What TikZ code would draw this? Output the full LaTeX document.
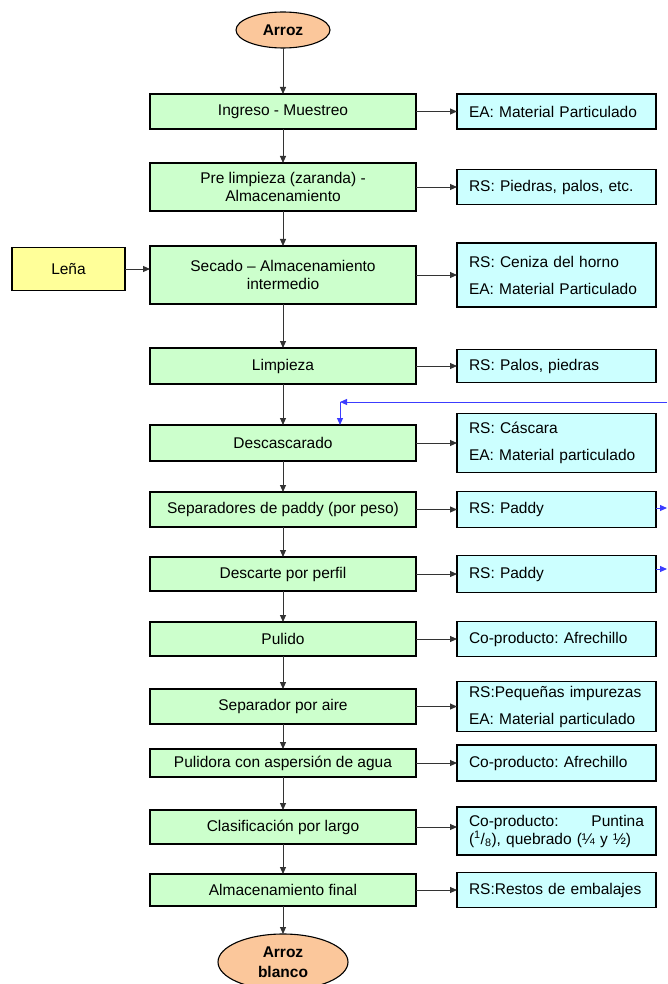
\documentclass[tikz,border=0pt]{standalone}
\usepackage{fontspec}
\setmainfont{Liberation Sans}
\usetikzlibrary{arrows.meta, positioning, shapes.geometric}
\definecolor{procgreen}{HTML}{CCFFCC}
\definecolor{salcyan}{HTML}{CCFFFF}
\definecolor{lenayellow}{HTML}{FFFF99}
\definecolor{arrozorange}{HTML}{FBC79B}
\definecolor{loopblue}{HTML}{3C3CFF}
\frenchspacing

\begin{document}
\begin{tikzpicture}[
  x=1pt, y=-1pt,
  font=\fontsize{15.5}{18}\selectfont,
  proceso/.style={rectangle, draw=black, line width=1.1pt, fill=procgreen,
                  align=center, minimum width=266pt, inner sep=2pt, outer sep=0pt},
  salida/.style={rectangle, draw=black, line width=1.1pt, fill=salcyan, outer sep=0pt,
                 align=left, text width=175pt, inner xsep=12pt, inner ysep=2pt},
  entrada/.style={rectangle, draw=black, line width=1.1pt, fill=lenayellow,
                  minimum width=113pt, minimum height=43pt, outer sep=0pt},
  extremo/.style={ellipse, draw=black, line width=1.1pt, fill=arrozorange, outer sep=0pt,
                  align=center, inner sep=1pt, font=\fontsize{15.5}{20}\selectfont\bfseries},
  arr/.style={-{Triangle[length=7pt, width=6pt]}, line width=0.9pt, black!80},
  retorno/.style={-{Triangle[length=7pt, width=6pt]}, line width=1pt, loopblue}
]
\useasboundingbox (0,0) rectangle (667,984);

% main line
\node (arroz) [extremo, minimum width=94pt, minimum height=36pt] at (283,30) {Arroz};
\node (ingreso) [proceso, minimum height=35pt, below=46pt of arroz] {Ingreso - Muestreo};
\node (prelimp) [proceso, minimum height=48pt, below=34pt of ingreso]
  {Pre limpieza (zaranda) -\\Almacenamiento};
\node (secado) [proceso, minimum height=58pt, below=35pt of prelimp]
  {Secado – Almacenamiento\\intermedio};
\node (limpieza) [proceso, minimum height=36pt, below=44pt of secado] {Limpieza};
\node (descasc) [proceso, minimum height=36pt, below=41pt of limpieza] {Descascarado};
\node (separ) [proceso, minimum height=35pt, below=31pt of descasc]
  {Separadores de paddy (por peso)};
\node (descarte) [proceso, minimum height=34pt, below=30pt of separ] {Descarte por perfil};
\node (pulido) [proceso, minimum height=34pt, below=31pt of descarte] {Pulido};
\node (sepaire) [proceso, minimum height=35pt, below=33pt of pulido] {Separador por aire};
\node (pulidora) [proceso, minimum height=28pt, below=25pt of sepaire]
  {Pulidora con aspersión de agua};
\node (clasif) [proceso, minimum height=34pt, below=33pt of pulidora]
  {Clasificación por largo};
\node (almac) [proceso, minimum height=32pt, below=30pt of clasif] {Almacenamiento final};
\node (blanco) [extremo, minimum width=130pt, minimum height=56pt, below=28pt of almac]
  {Arroz\\blanco};

% inputs and outputs
\node (lena) [entrada, left=25pt of secado, yshift=6pt] {Leña};
\node (sal1) [salida, minimum height=35pt, right=41pt of ingreso] {EA: Material Particulado};
\node (sal2) [salida, minimum height=35pt, right=41pt of prelimp] {RS: Piedras, palos, etc.};
\node (sal3) [salida, minimum height=64pt, right=41pt of secado]
  {RS: Ceniza del horno\\[9pt]EA: Material Particulado};
\node (sal4) [salida, minimum height=33pt, right=41pt of limpieza] {RS: Palos, piedras};
\node (sal5) [salida, minimum height=59pt, right=41pt of descasc]
  {RS: Cáscara\\[9pt]EA: Material particulado};
\node (sal6) [salida, minimum height=36pt, right=41pt of separ] {RS: Paddy};
\node (sal7) [salida, minimum height=37pt, right=41pt of descarte] {RS: Paddy};
\node (sal8) [salida, minimum height=35pt, right=41pt of pulido] {Co-producto: Afrechillo};
\node (sal9) [salida, minimum height=50pt, right=41pt of sepaire]
  {RS:Pequeñas impurezas\\[9pt]EA: Material particulado};
\node (sal10) [salida, minimum height=36pt, right=41pt of pulidora] {Co-producto: Afrechillo};
\node (sal11) [salida, minimum height=48pt, right=41pt of clasif, yshift=-4pt]
  {Co-producto:\hfill Puntina\\(\textsuperscript{1}/\textsubscript{8}), quebrado (¼ y ½)};
\node (sal12) [salida, minimum height=35pt, right=41pt of almac] {RS:Restos de embalajes};

% connectors
\foreach \a/\b in {arroz/ingreso, ingreso/prelimp, prelimp/secado, secado/limpieza,
  limpieza/descasc, descasc/separ, separ/descarte, descarte/pulido, pulido/sepaire,
  sepaire/pulidora, pulidora/clasif, clasif/almac, almac/blanco}
  \draw[arr] (\a) -- (\b);
\foreach \a/\b in {ingreso/sal1, prelimp/sal2, secado/sal3, limpieza/sal4, descasc/sal5,
  separ/sal6, descarte/sal7, pulido/sal8, sepaire/sal9, pulidora/sal10, clasif/sal11,
  almac/sal12}
  \draw[arr] (\a.east) -- (\a.east -| \b.west);
\draw[arr] (lena.east) -- (lena.east -| secado.west);

% paddy return
\coordinate (vuelta) at (667,402);
\coordinate (codo) at (340,402);
\draw[retorno] (vuelta) -- (codo);
\draw[retorno] (codo) -- (codo |- descasc.north);
\coordinate (fin6) at (667,508);
\coordinate (fin7) at (667,569);
\draw[retorno] (sal6.east |- fin6) -- (fin6);
\draw[retorno] (sal7.east |- fin7) -- (fin7);
\end{tikzpicture}
\end{document}
